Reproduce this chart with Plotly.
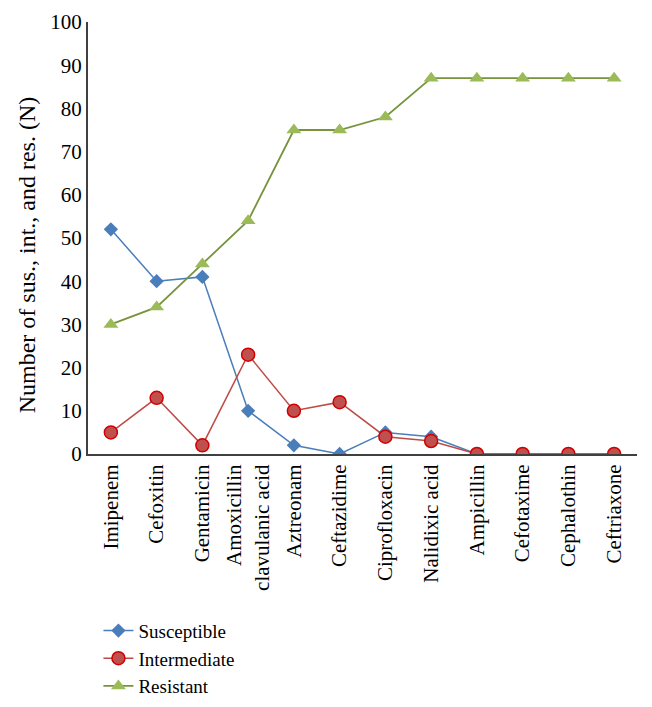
import plotly.graph_objects as go

categories = ["Imipenem", "Cefoxitin", "Gentamicin", "Amoxicillin<br>clavulanic acid",
              "Aztreonam", "Ceftazidime", "Ciprofloxacin", "Nalidixic acid",
              "Ampicillin", "Cefotaxime", "Cephalothin", "Ceftriaxone"]
susceptible = [52, 40, 41, 10, 2, 0, 5, 4, 0, 0, 0, 0]
intermediate = [5, 13, 2, 23, 10, 12, 4, 3, 0, 0, 0, 0]
resistant = [30, 34, 44, 54, 75, 75, 78, 87, 87, 87, 87, 87]
y_ticks = list(range(0, 101, 10))
y_title = "Number of sus., int., and res. (N)"

font = "Liberation Serif, Times New Roman, serif"
fs = 21

fig = go.Figure()
fig.add_trace(go.Scatter(
    x=categories, y=susceptible, name="Susceptible", mode="lines+markers",
    line=dict(color="#4a7ebb", width=1.5),
    marker=dict(symbol="diamond", size=11, color="#4a7ebb", line=dict(width=0))))
fig.add_trace(go.Scatter(
    x=categories, y=intermediate, name="Intermediate", mode="lines+markers",
    line=dict(color="#be4b48", width=1.5),
    marker=dict(symbol="circle", size=13, color="#c0504d", line=dict(color="#d00000", width=1.5))))
fig.add_trace(go.Scatter(
    x=categories, y=resistant, name="Resistant", mode="lines+markers",
    line=dict(color="#77933c", width=1.8),
    marker=dict(symbol="triangle-up", size=13, color="#9bbb59", line=dict(width=0))))

fig.update_layout(
    width=652, height=707,
    margin=dict(l=88, r=15, t=22, b=253, autoexpand=False),
    paper_bgcolor="white", plot_bgcolor="white",
    font=dict(family=font, size=fs, color="black"),
    showlegend=True,
    legend=dict(x=0.019, y=-0.365, xanchor="left", yanchor="top",
                font=dict(family=font, size=19), tracegroupgap=0,
                bgcolor="rgba(0,0,0,0)"),
    xaxis=dict(showline=True, linecolor="#404040", linewidth=2, showgrid=False,
               ticks="", tickangle=-90, tickfont=dict(family=font, size=fs),
               range=[-0.5, 11.5], zeroline=False, automargin=False),
    yaxis=dict(showline=True, linecolor="#404040", linewidth=2, showgrid=False,
               ticks="", range=[0, 100], tickvals=y_ticks, zeroline=False,
               tickfont=dict(family=font, size=fs), automargin=False),
    annotations=[dict(text=y_title, xref="paper", yref="paper", x=-0.111, y=0.46,
                      xanchor="center", yanchor="middle", textangle=-90,
                      showarrow=False, font=dict(family=font, size=24))],
)
fig.update_xaxes(type="category")

fig.write_html("out.html", config={"displayModeBar": False},
               post_script="document.body.style.margin='0px';")
